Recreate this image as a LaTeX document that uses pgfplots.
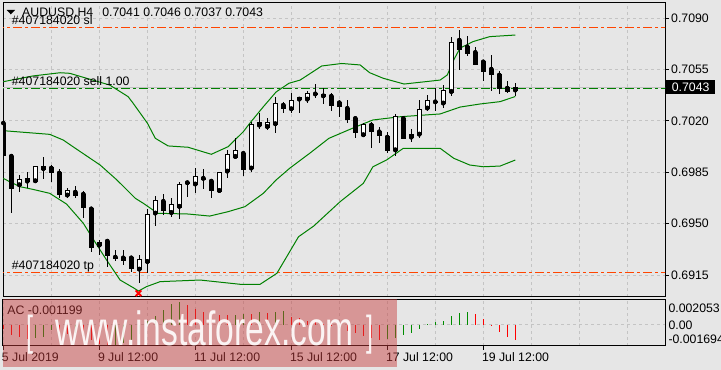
\documentclass[border=0pt]{standalone}
\usepackage{fontspec}
\setmainfont{Liberation Sans}
\usepackage{pgfplots}
\usepackage{pgfplotstable}
\pgfplotsset{compat=1.18}
\definecolor{bg}{RGB}{230,230,230}
\definecolor{gridc}{RGB}{196,196,196}
\definecolor{bbgreen}{RGB}{0,128,0}
\definecolor{acgreen}{RGB}{0,140,0}
\definecolor{slred}{RGB}{255,69,0}
\definecolor{bidgray}{RGB}{192,192,192}
\definecolor{wm}{RGB}{200,60,60}
\newcommand{\fnt}{\fontsize{12.3bp}{14bp}\selectfont}

\pgfplotstableread{
k O H L C
0 0.70186 0.70241 0.69914 0.69968
1 0.69961 0.69975 0.69573 0.69743
2 0.69764 0.69832 0.69718 0.69803
3 0.69789 0.69854 0.69745 0.69805
4 0.69791 0.69893 0.69791 0.69888
5 0.69875 0.69957 0.69803 0.69891
6 0.69880 0.69900 0.69786 0.69850
7 0.69846 0.69873 0.69673 0.69700
8 0.69694 0.69745 0.69677 0.69723
9 0.69716 0.69759 0.69673 0.69691
10 0.69702 0.69723 0.69541 0.69609
11 0.69602 0.69605 0.69309 0.69336
12 0.69353 0.69389 0.69287 0.69373
13 0.69382 0.69385 0.69207 0.69282
14 0.69273 0.69321 0.69248 0.69266
15 0.69268 0.69321 0.69218 0.69248
16 0.69268 0.69275 0.69174 0.69198
17 0.69189 0.69287 0.69098 0.69253
18 0.69241 0.69600 0.69162 0.69566
19 0.69571 0.69692 0.69486 0.69657
20 0.69653 0.69701 0.69559 0.69588
21 0.69575 0.69675 0.69548 0.69632
22 0.69617 0.69784 0.69530 0.69769
23 0.69778 0.69782 0.69680 0.69779
24 0.69769 0.69878 0.69711 0.69823
25 0.69808 0.69873 0.69739 0.69810
26 0.69791 0.69805 0.69673 0.69723
27 0.69725 0.69852 0.69707 0.69850
28 0.69857 0.70002 0.69809 0.69973
29 0.69957 0.70086 0.69950 0.69996
30 0.69980 0.69996 0.69827 0.69871
31 0.69878 0.70195 0.69854 0.70178
32 0.70171 0.70252 0.70148 0.70191
33 0.70161 0.70218 0.70139 0.70191
34 0.70180 0.70362 0.70120 0.70321
35 0.70309 0.70332 0.70252 0.70282
36 0.70282 0.70389 0.70257 0.70338
37 0.70348 0.70366 0.70257 0.70362
38 0.70348 0.70404 0.70325 0.70389
39 0.70383 0.70452 0.70359 0.70385
40 0.70370 0.70423 0.70314 0.70384
41 0.70370 0.70389 0.70270 0.70304
42 0.70325 0.70343 0.70229 0.70297
43 0.70287 0.70343 0.70184 0.70212
44 0.70218 0.70225 0.70086 0.70123
45 0.70105 0.70184 0.70098 0.70178
46 0.70173 0.70191 0.70018 0.70127
47 0.70127 0.70161 0.70048 0.70100
48 0.70091 0.70125 0.69985 0.70002
49 0.70002 0.70246 0.69961 0.70229
50 0.70218 0.70225 0.70078 0.70082
51 0.70089 0.70143 0.70059 0.70105
52 0.70109 0.70343 0.70082 0.70280
53 0.70287 0.70377 0.70270 0.70343
54 0.70329 0.70423 0.70270 0.70331
55 0.70321 0.70445 0.70287 0.70411
56 0.70400 0.70770 0.70370 0.70736
57 0.70752 0.70820 0.70548 0.70684
58 0.70706 0.70778 0.70643 0.70659
59 0.70668 0.70702 0.70583 0.70585
60 0.70604 0.70605 0.70473 0.70536
61 0.70554 0.70650 0.70407 0.70520
62 0.70514 0.70541 0.70382 0.70423
63 0.70425 0.70475 0.70389 0.70400
64 0.70410 0.70460 0.70370 0.70430
}\candles

\pgfplotstableread{
k p
0 0.70468
3.7 0.70507
7.1 0.70529
8.3 0.70525
13.3 0.70445
15.6 0.70366
16.2 0.70323
18 0.70186
19 0.70082
20.6 0.70030
23.1 0.70021
26 0.69973
28.1 0.70025
30 0.70127
30.8 0.70184
32.5 0.70297
34.1 0.70398
35.7 0.70457
37.1 0.70479
39.8 0.70575
42.3 0.70592
44.6 0.70582
45.8 0.70529
47.5 0.70491
50.1 0.70452
54.6 0.70479
55.5 0.70514
56.3 0.70616
57.1 0.70698
57.9 0.70718
58.7 0.70741
60.8 0.70775
64 0.70786
}\upperband

\pgfplotstableread{
k p
0 0.70134
5.8 0.70109
7.5 0.70070
8.7 0.70025
12.1 0.69900
14.2 0.69798
16.5 0.69673
17.5 0.69639
19.3 0.69571
23.1 0.69566
25.8 0.69552
28.1 0.69582
30.2 0.69616
32.5 0.69707
34.1 0.69798
35.8 0.69878
38.3 0.69980
40.7 0.70082
44.1 0.70161
46.2 0.70207
49.6 0.70229
54.6 0.70248
57.1 0.70295
59.6 0.70316
62.1 0.70332
64 0.70367
}\midband

\pgfplotstableread{
k p
0 0.69809
0.8 0.69786
2.1 0.69752
3.7 0.69734
5.8 0.69707
7.9 0.69634
10 0.69503
11.3 0.69389
12.9 0.69253
14.6 0.69116
16.3 0.69062
16.9 0.69041
17.9 0.69071
19.6 0.69105
24.6 0.69116
29.6 0.69087
32.1 0.69087
34.2 0.69162
36.9 0.69411
38.8 0.69484
42.1 0.69650
45 0.69775
46.2 0.69888
47.9 0.69934
50 0.70014
54.6 0.70014
56.3 0.69946
58.3 0.69900
60 0.69888
62.1 0.69893
64 0.69934
}\lowerband

\begin{document}
\begin{tikzpicture}
\useasboundingbox (0,0) rectangle (721bp,370bp);
\fill[bg] (0,0) rectangle (721bp,370bp);

% ---------------- main price chart ----------------
\begin{axis}[
  at={(3bp,73.3bp)}, anchor=south west, scale only axis,
  width=662bp, height=293.7bp,
  xmin=-0.04, xmax=82.71, ymin=0.690024, ymax=0.710043,
  axis line style={black, line width=1bp},
  axis background/.style={fill=bg},
  xtick={0,6,...,78}, xticklabels={},
  xtick style={draw=none},
  ytick={0.6915,0.6950,0.6985,0.7020,0.7055,0.7090},
  ytick pos=right, yticklabel pos=right,
  scaled y ticks=false,
  tick align=outside, major tick length=4bp,
  ytick style={black, line width=1bp},
  yticklabel style={anchor=west, inner sep=0pt, xshift=2bp,
    /pgf/number format/.cd, fixed, fixed zerofill, precision=4, assume math mode=true},
  tick label style={font=\fnt, text=black},
  grid=major, major grid style={gridc, line width=1bp, dash pattern=on 3bp off 3bp},
]
% bid line and order levels
\addplot[bidgray, line width=1bp] coordinates {(-1,0.7043) (90,0.7043)};
\addplot[slred, line width=1bp, dash pattern=on 9bp off 3bp on 3bp off 3bp] coordinates {(-1,0.70839) (90,0.70839)};
\addplot[slred, line width=1bp, dash pattern=on 9bp off 3bp on 3bp off 3bp] coordinates {(-1,0.69169) (90,0.69169)};
\addplot[bbgreen, line width=1bp, dash pattern=on 9bp off 3bp on 3bp off 3bp] coordinates {(-1,0.70423) (90,0.70423)};
% Bollinger bands
\addplot[bbgreen, line width=1bp] table[x=k, y=p] {\upperband};
\addplot[bbgreen, line width=1bp] table[x=k, y=p] {\midband};
\addplot[bbgreen, line width=1bp] table[x=k, y=p] {\lowerband};
% wicks
\addplot[only marks, mark=none,
  error bars/.cd, y dir=both, y explicit, error mark=none,
  error bar style={black, line width=1bp}]
  table[x=k, y=O, y error plus expr={\thisrow{H}-\thisrow{O}}, y error minus expr={\thisrow{O}-\thisrow{L}}] {\candles};
% bodies (black)
\addplot[only marks, mark=none,
  error bars/.cd, y dir=both, y explicit, error mark=none,
  error bar style={black, line width=5bp}]
  table[x=k, y=O, y error plus expr={max(\thisrow{C}-\thisrow{O},0)+0.000034}, y error minus expr={max(\thisrow{O}-\thisrow{C},0)+0.000034}] {\candles};
% bodies (white interior of bullish candles)
\addplot[only marks, mark=none,
  error bars/.cd, y dir=plus, y explicit, error mark=none,
  error bar style={white, line width=3bp}]
  table[x=k, y expr={\thisrow{C}>\thisrow{O} ? \thisrow{O}+0.000034 : 0.72}, y error plus expr={max(\thisrow{C}-\thisrow{O}-0.000068,0)}] {\candles};
% take profit hit marker
\addplot[red, only marks, mark=x, mark size=4bp, line width=2bp] coordinates {(16.9,0.69026)};
\end{axis}

% ---------------- AC indicator ----------------
\begin{axis}[
  at={(3bp,24bp)}, anchor=south west, scale only axis,
  width=662bp, height=46.7bp,
  xmin=-0.04, xmax=82.71, ymin=-0.001694, ymax=0.002053,
  axis line style={black, line width=1bp},
  axis background/.style={fill=bg},
  xtick={0,12,...,60}, minor xtick={6,18,30,42,54,66,72,78},
  xticklabels={}, xtick pos=left,
  ytick={0}, yticklabels={}, ytick style={draw=none},
  scaled y ticks=false,
  tick align=outside, major tick length=4bp, minor tick length=0pt,
  xtick style={black, line width=1bp},
  xmajorgrids, xminorgrids, ymajorgrids,
  major grid style={gridc, line width=1bp, dash pattern=on 3bp off 3bp},
  minor grid style={gridc, line width=1bp, dash pattern=on 3bp off 3bp},
]
\addplot[ycomb, acgreen, line width=1bp, mark=none] coordinates {
(4,-0.00105) (5,-0.00095) (6,-0.00045) (9,-0.00065) (14,-0.00160) (15,-0.00145)
(16,-0.00120) (17,-0.00070) (18,0.00030) (19,0.00075) (20,0.00120) (21,0.00165)
(22,0.00180) (29,0.00082) (30,0.00090) (32,0.00100) (34,0.00105) (35,0.00108)
(48,-0.00115) (49,-0.00107) (50,-0.00080) (51,-0.00062) (52,-0.00035) (53,0.00005)
(54,0.00027) (55,0.00035) (56,0.00072) (57,0.00099) (58,0.00102)
};
\addplot[ycomb, red, line width=1bp, mark=none] coordinates {
(0,-0.00030) (1,-0.00080) (2,-0.00100) (3,-0.00115) (7,-0.00055) (8,-0.00075)
(10,-0.00090) (11,-0.00125) (12,-0.00150) (13,-0.00165) (23,0.00160) (24,0.00125)
(25,0.00100) (26,0.00090) (27,0.00082) (28,0.00078) (31,0.00086) (33,0.00094)
(36,0.00065) (37,0.00055) (38,0.00030) (39,0.00020) (40,0.00010) (41,-0.00012)
(42,-0.00028) (43,-0.00048) (44,-0.00066) (45,-0.00092) (46,-0.00107) (47,-0.00120)
(59,0.00088) (60,0.00045) (61,-0.00003) (62,-0.00054) (63,-0.00094) (64,-0.001199)
};
\end{axis}

% ---------------- texts ----------------
\fill[black] (6.7bp,360bp) -- (15bp,360bp) -- (10.85bp,355.6bp) -- cycle;
\node[anchor=base west, inner sep=0pt, font=\fnt] at (22bp,353.3bp) {AUDUSD,H4\hspace{9bp}0.7041 0.7046 0.7037 0.7043};
\node[anchor=base west, inner sep=0pt, font=\fnt] at (11.7bp,345bp) {\#407184020 sl};
\node[anchor=base west, inner sep=0pt, font=\fnt] at (11.7bp,284bp) {\#407184020 sell 1.00};
\node[anchor=base west, inner sep=0pt, font=\fnt] at (11.7bp,100bp) {\#407184020 tp};
\node[anchor=base west, inner sep=0pt, font=\fnt] at (7.3bp,55bp) {AC -0.001199};
\node[fill=black, text=white, anchor=west, minimum width=49bp, minimum height=14.5bp, inner sep=0pt, font=\fnt] at (666bp,283bp) {0.7043};
\node[anchor=west, inner sep=0pt, font=\fnt] at (668.3bp,61.7bp) {0.002053};
\node[anchor=west, inner sep=0pt, font=\fnt] at (668.3bp,45bp) {0.00};
\node[anchor=west, inner sep=0pt, font=\fnt] at (668.3bp,31.2bp) {-0.001694};
\node[anchor=base west, inner sep=0pt, font=\fnt] at (1.8bp,8.5bp) {5 Jul 2019};
\node[anchor=base west, inner sep=0pt, font=\fnt] at (97.8bp,8.5bp) {9 Jul 12:00};
\node[anchor=base west, inner sep=0pt, font=\fnt] at (193.8bp,8.5bp) {11 Jul 12:00};
\node[anchor=base west, inner sep=0pt, font=\fnt] at (289.8bp,8.5bp) {15 Jul 12:00};
\node[anchor=base west, inner sep=0pt, font=\fnt] at (385.8bp,8.5bp) {17 Jul 12:00};
\node[anchor=base west, inner sep=0pt, font=\fnt] at (481.8bp,8.5bp) {19 Jul 12:00};

% ---------------- watermark ----------------
\fill[wm, fill opacity=0.47] (3.3bp,3bp) rectangle (397bp,70.7bp);
\node[anchor=base west, inner sep=0pt, text=white, text opacity=0.9, font=\fontsize{48bp}{50bp}\selectfont, xscale=0.7] at (55bp,25bp) {www.instaforex.com};
\node[anchor=base west, inner sep=0pt, text=white, text opacity=0.9, font=\fontsize{42bp}{44bp}\selectfont, xscale=0.6] at (26bp,25bp) {[};
\node[anchor=base west, inner sep=0pt, text=white, text opacity=0.9, font=\fontsize{42bp}{44bp}\selectfont, xscale=0.6] at (366bp,25bp) {]};
\end{tikzpicture}
\end{document}
